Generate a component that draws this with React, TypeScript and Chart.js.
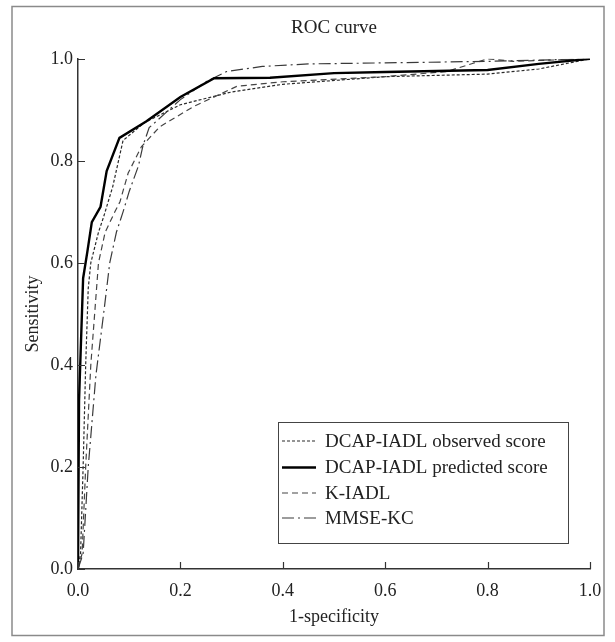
import React, { useEffect, useRef } from "react";
import { Chart, registerables } from "chart.js";

Chart.register(...registerables);

const TITLE = "ROC curve";
const X_LABEL = "1-specificity";
const Y_LABEL = "Sensitivity";
const TICK_VALUES = [0, 0.2, 0.4, 0.6, 0.8, 1.0];

const SERIES_NAMES = [
  "DCAP-IADL observed score",
  "DCAP-IADL predicted score",
  "K-IADL",
  "MMSE-KC",
];

// DCAP-IADL observed score
const observedX = [0, 0.005, 0.01, 0.015, 0.02, 0.025, 0.04, 0.05, 0.068, 0.088, 0.13, 0.2, 0.3, 0.4, 0.6, 0.8, 0.9, 1];
const observedY = [0, 0.03, 0.2, 0.4, 0.55, 0.6, 0.66, 0.69, 0.75, 0.84, 0.875, 0.91, 0.935, 0.95, 0.965, 0.97, 0.98, 1];

// DCAP-IADL predicted score
const predictedX = [0, 0.002, 0.005, 0.01, 0.018, 0.027, 0.044, 0.056, 0.081, 0.133, 0.2, 0.266, 0.375, 0.5, 0.6, 0.8, 0.9, 1];
const predictedY = [0, 0.33, 0.42, 0.57, 0.62, 0.68, 0.71, 0.78, 0.845, 0.877, 0.925, 0.962, 0.963, 0.972, 0.974, 0.978, 0.99, 1];

// K-IADL
const kiadlX = [0, 0.008, 0.015, 0.025, 0.04, 0.053, 0.072, 0.082, 0.098, 0.124, 0.16, 0.225, 0.31, 0.4, 0.6, 0.72, 0.8, 0.85, 1];
const kiadlY = [0, 0.03, 0.2, 0.4, 0.6, 0.66, 0.7, 0.72, 0.776, 0.828, 0.867, 0.906, 0.946, 0.955, 0.965, 0.975, 1.0, 0.995, 1];

// MMSE-KC
const mmseX = [0, 0.01, 0.02, 0.035, 0.05, 0.062, 0.075, 0.088, 0.1, 0.118, 0.127, 0.139, 0.2, 0.25, 0.29, 0.36, 0.45, 0.6, 0.8, 1];
const mmseY = [0, 0.03, 0.2, 0.38, 0.5, 0.6, 0.66, 0.7, 0.74, 0.79, 0.83, 0.865, 0.92, 0.955, 0.975, 0.985, 0.99, 0.992, 0.995, 1];

const FONT = "'Liberation Serif', 'DejaVu Serif', serif";
const TICK_SIZE = 18;
const TEXT_SIZE = 19;
const AXIS_COLOR = "#333";

const toPoints = (xs: number[], ys: number[]) => xs.map((x, i) => ({ x, y: ys[i] }));

const frameAndTicksPlugin = {
  id: "frameAndTicks",
  beforeDraw(chart: any) {
    const ctx = chart.ctx;
    ctx.save();
    ctx.fillStyle = "#fff";
    ctx.fillRect(0, 0, chart.width, chart.height);
    ctx.strokeStyle = "#8a8a8a";
    ctx.lineWidth = 1.5;
    ctx.strokeRect(12, 6.5, 592, 629);
    ctx.restore();
  },
  afterDraw(chart: any) {
    const ctx = chart.ctx;
    const xs = chart.scales.x;
    const ys = chart.scales.y;
    const area = chart.chartArea;
    ctx.save();
    ctx.strokeStyle = AXIS_COLOR;
    ctx.lineWidth = 1.2;
    const len = 7;
    ctx.beginPath();
    TICK_VALUES.forEach((v) => {
      const px = Math.round(xs.getPixelForValue(v)) + 0.5;
      ctx.moveTo(px, area.bottom);
      ctx.lineTo(px, area.bottom - len);
      const py = Math.round(ys.getPixelForValue(v)) + 0.5;
      ctx.moveTo(area.left, py);
      ctx.lineTo(area.left + len, py);
    });
    ctx.stroke();
    ctx.restore();
  },
};

const insideLegendPlugin = {
  id: "insideLegend",
  afterDatasetsDraw(chart: any) {
    const ctx = chart.ctx;
    const boxL = 278.5, boxT = 422.5, boxW = 290, boxH = 121;
    ctx.save();
    ctx.fillStyle = "#fff";
    ctx.fillRect(boxL, boxT, boxW, boxH);
    ctx.strokeStyle = "#444";
    ctx.lineWidth = 1;
    ctx.strokeRect(boxL, boxT, boxW, boxH);
    const rows = [441, 467.5, 493, 518];
    chart.data.datasets.forEach((ds: any, i: number) => {
      const y = rows[i];
      ctx.beginPath();
      ctx.setLineDash(ds.borderDash || []);
      ctx.strokeStyle = ds.borderColor;
      ctx.lineWidth = ds.borderWidth;
      ctx.moveTo(282, y);
      ctx.lineTo(316, y);
      ctx.stroke();
      ctx.setLineDash([]);
      ctx.fillStyle = "#222";
      ctx.font = `${TEXT_SIZE}px ${FONT}`;
      ctx.textBaseline = "middle";
      ctx.textAlign = "left";
      ctx.fillText(ds.label, 325, y + 1);
    });
    ctx.restore();
  },
};

export default function App() {
  const canvasRef = useRef<HTMLCanvasElement | null>(null);

  useEffect(() => {
    if (!canvasRef.current) return;
    const chart = new Chart(canvasRef.current, {
      type: "line",
      data: {
        datasets: [
          {
            label: SERIES_NAMES[0],
            data: toPoints(observedX, observedY),
            borderColor: "#2a2a2a",
            borderWidth: 1.2,
            borderDash: [3, 2],
            pointRadius: 0,
            tension: 0,
            order: 3,
          },
          {
            label: SERIES_NAMES[1],
            data: toPoints(predictedX, predictedY),
            borderColor: "#000",
            borderWidth: 2.4,
            pointRadius: 0,
            tension: 0,
            order: 0,
          },
          {
            label: SERIES_NAMES[2],
            data: toPoints(kiadlX, kiadlY),
            borderColor: "#444",
            borderWidth: 1.2,
            borderDash: [6, 4],
            pointRadius: 0,
            tension: 0,
            order: 2,
          },
          {
            label: SERIES_NAMES[3],
            data: toPoints(mmseX, mmseY),
            borderColor: "#3a3a3a",
            borderWidth: 1.2,
            borderDash: [12, 4, 2, 4],
            pointRadius: 0,
            tension: 0,
            order: 1,
          },
        ],
      },
      options: {
        responsive: false,
        animation: false,
        devicePixelRatio: 1,
        layout: { padding: { left: 0, right: 25, top: 0, bottom: 0 } },
        plugins: {
          legend: { display: false },
          tooltip: { enabled: false },
          title: {
            display: true,
            fullSize: false,
            text: TITLE,
            color: "#222",
            font: { family: FONT, size: TEXT_SIZE, weight: "normal" },
            padding: { top: 17, bottom: 19 },
          },
        },
        scales: {
          x: {
            type: "linear",
            min: 0,
            max: 1,
            afterBuildTicks: (scale: any) => {
              scale.ticks = TICK_VALUES.map((v) => ({ value: v }));
            },
            afterFit: (scale: any) => {
              scale.height = 73;
            },
            ticks: {
              color: "#222",
              font: { family: FONT, size: TICK_SIZE },
              padding: 11,
              maxRotation: 0,
              callback: (v: any) => Number(v).toFixed(1),
            },
            grid: { display: true, drawOnChartArea: false, drawTicks: false },
            border: { display: true, color: AXIS_COLOR, width: 1.5 },
            title: {
              display: true,
              text: X_LABEL,
              color: "#222",
              font: { family: FONT, size: TICK_SIZE },
              padding: { top: 0, bottom: 14 },
            },
          },
          y: {
            type: "linear",
            min: 0,
            max: 1,
            afterBuildTicks: (scale: any) => {
              scale.ticks = TICK_VALUES.map((v) => ({ value: v }));
            },
            afterFit: (scale: any) => {
              scale.width = 78;
            },
            ticks: {
              color: "#222",
              font: { family: FONT, size: TICK_SIZE },
              padding: 5,
              callback: (v: any) => Number(v).toFixed(1),
            },
            grid: { display: true, drawOnChartArea: false, drawTicks: false },
            border: { display: true, color: AXIS_COLOR, width: 1.5 },
            title: {
              display: true,
              text: Y_LABEL,
              color: "#222",
              font: { family: FONT, size: TICK_SIZE },
              padding: { top: 22, bottom: 0 },
            },
          },
        },
      },
      plugins: [frameAndTicksPlugin, insideLegendPlugin],
    });
    return () => chart.destroy();
  }, []);

  return (
    <div style={{ position: "absolute", left: 0, top: 0, width: 615, height: 642, background: "#fff" }}>
      <canvas ref={canvasRef} width={615} height={642} />
    </div>
  );
}
